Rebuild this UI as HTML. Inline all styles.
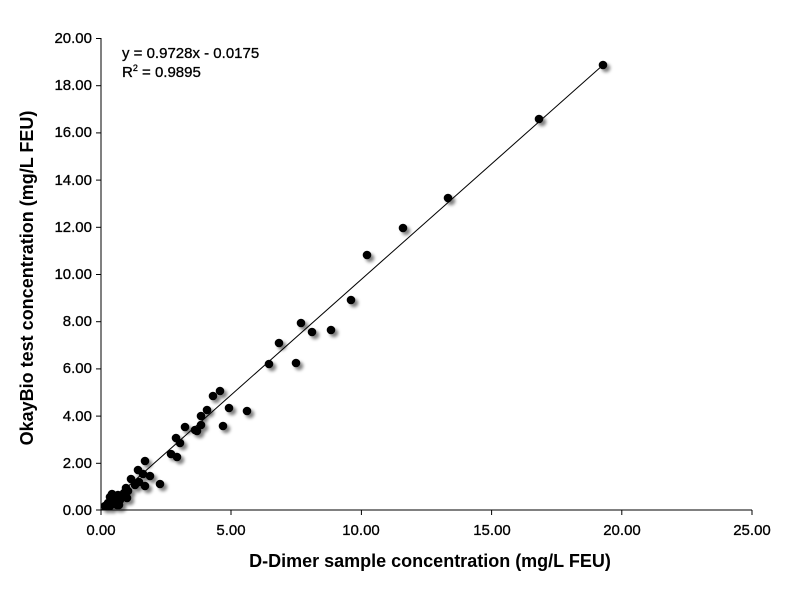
<!DOCTYPE html><html><head><style>body{margin:0;background:#fff}svg text{font-family:"Liberation Sans",sans-serif}</style></head><body>
<svg width="787" height="600" xmlns="http://www.w3.org/2000/svg">
<defs><filter id="s" x="-1" y="-1" width="3" height="3"><feGaussianBlur in="SourceAlpha" stdDeviation="1.5"/><feOffset dx="3" dy="3"/><feComponentTransfer><feFuncA type="linear" slope="0.5"/></feComponentTransfer><feMerge><feMergeNode/><feMergeNode in="SourceGraphic"/></feMerge></filter></defs>
<g stroke="#000" stroke-width="1">
<line x1="101" y1="38" x2="101" y2="510"/><line x1="101" y1="510" x2="752" y2="510"/>
<line x1="96" y1="38.5" x2="101" y2="38.5"/><line x1="96" y1="85.7" x2="101" y2="85.7"/><line x1="96" y1="132.9" x2="101" y2="132.9"/><line x1="96" y1="180.1" x2="101" y2="180.1"/><line x1="96" y1="227.3" x2="101" y2="227.3"/><line x1="96" y1="274.5" x2="101" y2="274.5"/><line x1="96" y1="321.7" x2="101" y2="321.7"/><line x1="96" y1="368.9" x2="101" y2="368.9"/><line x1="96" y1="416.1" x2="101" y2="416.1"/><line x1="96" y1="463.3" x2="101" y2="463.3"/><line x1="96" y1="510" x2="101" y2="510"/>
<line x1="101" y1="510" x2="101" y2="515"/><line x1="231" y1="510" x2="231" y2="515"/><line x1="361.4" y1="510" x2="361.4" y2="515"/><line x1="491.6" y1="510" x2="491.6" y2="515"/><line x1="621.8" y1="510" x2="621.8" y2="515"/><line x1="752" y1="510" x2="752" y2="515"/>
<line x1="101" y1="510.4" x2="603" y2="65"/>
</g>
<g font-size="15" text-anchor="end" fill="#000" stroke="#000" stroke-width="0.3">
<text x="92" y="43">20.00</text><text x="92" y="90">18.00</text><text x="92" y="137">16.00</text><text x="92" y="185">14.00</text><text x="92" y="232">12.00</text><text x="92" y="279">10.00</text><text x="92" y="326">8.00</text><text x="92" y="373">6.00</text><text x="92" y="421">4.00</text><text x="92" y="468">2.00</text><text x="92" y="515">0.00</text>
</g>
<g font-size="15" text-anchor="middle" stroke="#000" stroke-width="0.3"><text x="101" y="535">0.00</text><text x="231" y="535">5.00</text><text x="361" y="535">10.00</text><text x="492" y="535">15.00</text><text x="622" y="535">20.00</text><text x="752" y="535">25.00</text></g>
<g stroke="#000" stroke-width="0.3">
<text x="122" y="58" font-size="15">y = 0.9728x - 0.0175</text>
<text x="122" y="77" font-size="15">R<tspan font-size="9" dy="-6">2</tspan><tspan dy="6"> = 0.9895</tspan></text>
</g>
<text x="430" y="567" font-size="18" font-weight="bold" text-anchor="middle">D-Dimer sample concentration (mg/L FEU)</text>
<text transform="translate(33,278) rotate(-90)" font-size="18" font-weight="bold" text-anchor="middle">OkayBio test concentration (mg/L FEU)</text>
<g fill="#000" filter="url(#s)">
<circle cx="603" cy="65" r="4.3"/><circle cx="539" cy="119" r="4.3"/><circle cx="448" cy="198" r="4.3"/><circle cx="403" cy="228" r="4.3"/><circle cx="367" cy="255" r="4.3"/><circle cx="351" cy="300" r="4.3"/><circle cx="331" cy="330" r="4.3"/><circle cx="312" cy="332" r="4.3"/><circle cx="301" cy="323" r="4.3"/><circle cx="279" cy="343" r="4.3"/><circle cx="269" cy="364" r="4.3"/><circle cx="296" cy="363" r="4.3"/><circle cx="220" cy="391" r="4.3"/><circle cx="213" cy="396" r="4.3"/><circle cx="229" cy="408" r="4.3"/><circle cx="247" cy="411" r="4.3"/><circle cx="223" cy="426" r="4.3"/><circle cx="207" cy="410" r="4.3"/><circle cx="201" cy="416" r="4.3"/><circle cx="201" cy="425" r="4.3"/><circle cx="197" cy="431" r="4.3"/><circle cx="195" cy="430" r="4.3"/><circle cx="185" cy="427" r="4.3"/><circle cx="180" cy="443" r="4.3"/><circle cx="176" cy="438" r="4.3"/><circle cx="177" cy="457" r="4.3"/><circle cx="171" cy="454" r="4.3"/><circle cx="160" cy="484" r="4.3"/><circle cx="150" cy="476" r="4.3"/><circle cx="145" cy="461" r="4.3"/><circle cx="143" cy="474" r="4.3"/><circle cx="138" cy="470" r="4.3"/><circle cx="139" cy="482" r="4.3"/><circle cx="131" cy="479" r="4.3"/><circle cx="126" cy="488" r="4.3"/><circle cx="124" cy="493" r="4.3"/><circle cx="128" cy="491" r="4.3"/><circle cx="118" cy="495" r="4.3"/><circle cx="115" cy="498" r="4.3"/><circle cx="112" cy="494" r="4.3"/><circle cx="110" cy="497" r="4.3"/><circle cx="112" cy="501" r="4.3"/><circle cx="108" cy="503" r="4.3"/><circle cx="105" cy="506" r="4.3"/><circle cx="110" cy="506" r="4.3"/><circle cx="117" cy="505" r="4.3"/><circle cx="119" cy="505" r="4.3"/><circle cx="114" cy="504" r="4.3"/><circle cx="120" cy="500" r="4.3"/><circle cx="127" cy="498" r="4.3"/><circle cx="135" cy="485" r="4.3"/><circle cx="145" cy="486" r="4.3"/>
</g>
</svg></body></html>
